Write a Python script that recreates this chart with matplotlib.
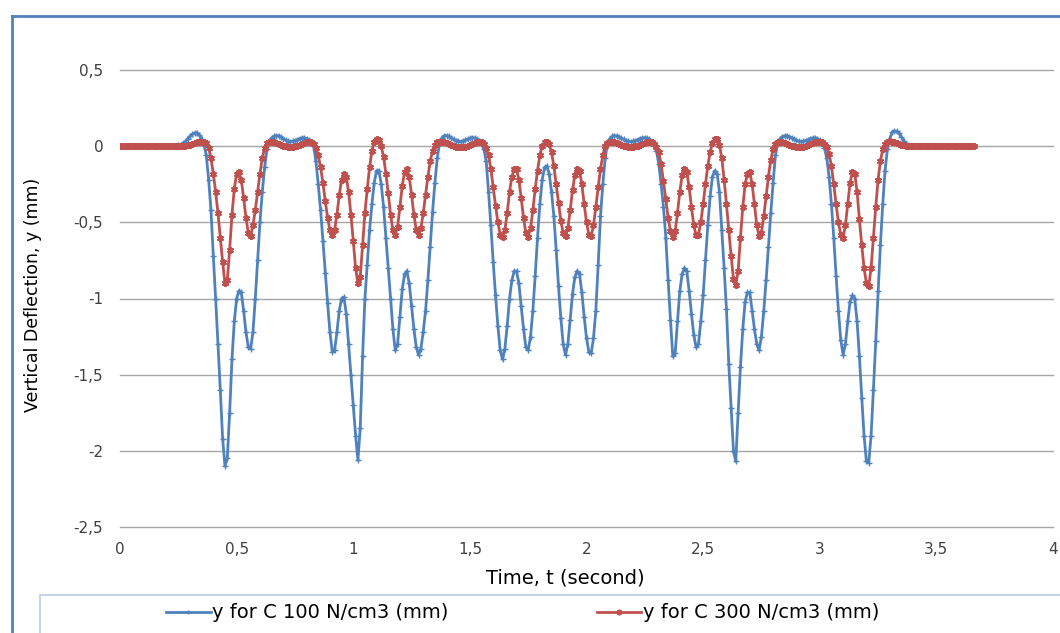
import matplotlib

matplotlib.use("Agg")
import matplotlib.pyplot as plt
import numpy as np
from matplotlib.lines import Line2D
from matplotlib.patches import Rectangle

# sampling step of the deflection records (s)
STEP = 0.01

# y for C 100 N/cm3 (mm), one row per 0.1 s starting at t = 0
y_c100 = [
    0, 0, 0, 0, 0, 0, 0, 0, 0, 0,
    0, 0, 0, 0, 0, 0, 0, 0, 0, 0,
    0, 0, 0, 0, 0, 0.005, 0.01, 0.02, 0.03, 0.05,
    0.065, 0.078, 0.087, 0.088, 0.075, 0.045, 0.01, -0.06, -0.22, -0.42,
    -0.72, -1.0, -1.3, -1.6, -1.92, -2.1, -2.05, -1.75, -1.4, -1.15,
    -1.0, -0.95, -0.96, -1.08, -1.22, -1.32, -1.33, -1.22, -1.0, -0.75,
    -0.5, -0.3, -0.14, -0.02, 0.03, 0.055, 0.065, 0.07, 0.068, 0.06,
    0.05, 0.04, 0.033, 0.03, 0.032, 0.037, 0.043, 0.05, 0.054, 0.055,
    0.05, 0.04, 0.02, 0.0, -0.1, -0.25, -0.42, -0.62, -0.83, -1.03,
    -1.22, -1.35, -1.34, -1.22, -1.08, -1.0, -0.99, -1.1, -1.3, -1.5,
    -1.7, -1.9, -2.06, -1.85, -1.38, -1.0, -0.78, -0.55, -0.38, -0.24,
    -0.16, -0.16, -0.25, -0.4, -0.6, -0.8, -1.0, -1.2, -1.34, -1.3,
    -1.12, -0.94, -0.84, -0.82, -0.9, -1.05, -1.2, -1.32, -1.37, -1.33,
    -1.22, -1.08, -0.88, -0.66, -0.43, -0.24, -0.08, 0.02, 0.055, 0.068,
    0.07, 0.065, 0.055, 0.045, 0.037, 0.032, 0.03, 0.033, 0.04, 0.047,
    0.053, 0.056, 0.055, 0.048, 0.035, 0.015, -0.02, -0.1, -0.3, -0.52,
    -0.76, -0.98, -1.18, -1.34, -1.40, -1.33, -1.18, -1.0, -0.88, -0.82,
    -0.82, -0.9, -1.05, -1.2, -1.32, -1.34, -1.25, -1.08, -0.85, -0.6,
    -0.38, -0.22, -0.14, -0.13, -0.18, -0.3, -0.46, -0.68, -0.92, -1.13,
    -1.3, -1.37, -1.3, -1.14, -0.97, -0.86, -0.82, -0.84, -0.96, -1.12,
    -1.26, -1.35, -1.36, -1.26, -1.08, -0.78, -0.46, -0.25, -0.08, 0.02,
    0.05, 0.065, 0.07, 0.067, 0.06, 0.052, 0.044, 0.037, 0.032, 0.03,
    0.032, 0.037, 0.043, 0.05, 0.054, 0.056, 0.053, 0.045, 0.03, 0.01,
    -0.03, -0.12, -0.25, -0.4, -0.6, -0.88, -1.14, -1.38, -1.36, -1.15,
    -0.95, -0.84, -0.8, -0.82, -0.95, -1.1, -1.24, -1.32, -1.3, -1.15,
    -0.98, -0.75, -0.52, -0.33, -0.2, -0.16, -0.18, -0.3, -0.55, -0.8,
    -1.07, -1.43, -1.72, -2.0, -2.07, -1.75, -1.45, -1.2, -1.02, -0.96,
    -0.96, -1.08, -1.2, -1.3, -1.34, -1.25, -1.08, -0.88, -0.66, -0.44,
    -0.24, -0.06, 0.02, 0.05, 0.063, 0.068, 0.068, 0.063, 0.055, 0.046,
    0.038, 0.032, 0.03, 0.032, 0.037, 0.043, 0.05, 0.054, 0.055, 0.05,
    0.038, 0.02, -0.01, -0.08, -0.2, -0.38, -0.6, -0.85, -1.08, -1.27,
    -1.37, -1.3, -1.15, -1.02, -0.98, -1.0, -1.15, -1.38, -1.65, -1.9,
    -2.07, -2.08, -1.9, -1.6, -1.28, -0.95, -0.65, -0.38, -0.16, -0.02,
    0.05, 0.09, 0.1, 0.098, 0.085, 0.06, 0.035, 0.015, 0.005, 0.0,
    0, 0, 0, 0, 0, 0, 0, 0, 0, 0,
    0, 0, 0, 0, 0, 0, 0, 0, 0, 0,
    0, 0, 0, 0, 0, 0, 0,
]

# y for C 300 N/cm3 (mm)
y_c300 = [
    0, 0, 0, 0, 0, 0, 0, 0, 0, 0,
    0, 0, 0, 0, 0, 0, 0, 0, 0, 0,
    0, 0, 0, 0, 0, 0, 0, 0, 0.003, 0.006,
    0.01, 0.015, 0.02, 0.025, 0.03, 0.03, 0.028, 0.02, -0.01, -0.08,
    -0.18, -0.3, -0.44, -0.6, -0.76, -0.9, -0.88, -0.68, -0.45, -0.28,
    -0.18, -0.17, -0.22, -0.34, -0.47, -0.57, -0.59, -0.52, -0.42, -0.3,
    -0.18, -0.08, -0.01, 0.02, 0.03, 0.03, 0.027, 0.022, 0.015, 0.008,
    0.002, -0.002, -0.005, -0.006, -0.005, -0.002, 0.004, 0.01, 0.017, 0.023,
    0.028, 0.03, 0.027, 0.015, -0.01, -0.06, -0.14, -0.24, -0.36, -0.47,
    -0.55, -0.58, -0.55, -0.45, -0.32, -0.22, -0.18, -0.2, -0.3, -0.45,
    -0.62, -0.8, -0.9, -0.86, -0.65, -0.44, -0.28, -0.14, -0.03, 0.03,
    0.045, 0.04, 0.0, -0.07, -0.18, -0.31, -0.45, -0.55, -0.58, -0.53,
    -0.4, -0.26, -0.17, -0.15, -0.2, -0.32, -0.45, -0.55, -0.58, -0.54,
    -0.44, -0.32, -0.2, -0.1, -0.03, 0.01, 0.025, 0.03, 0.03, 0.027,
    0.022, 0.015, 0.008, 0.002, -0.003, -0.006, -0.007, -0.006, -0.003, 0.003,
    0.01, 0.017, 0.024, 0.028, 0.03, 0.025, 0.012, -0.01, -0.06, -0.15,
    -0.27, -0.39, -0.5, -0.58, -0.595, -0.55, -0.44, -0.3, -0.2, -0.15,
    -0.15, -0.22, -0.34, -0.47, -0.57, -0.595, -0.54, -0.42, -0.28, -0.16,
    -0.06, 0.0, 0.025, 0.03, 0.015, -0.04, -0.13, -0.25, -0.37, -0.49,
    -0.57, -0.59, -0.54, -0.42, -0.29, -0.19, -0.15, -0.16, -0.25, -0.38,
    -0.5, -0.58, -0.59, -0.52, -0.4, -0.27, -0.15, -0.06, 0.0, 0.02,
    0.03, 0.03, 0.027, 0.022, 0.015, 0.008, 0.002, -0.002, -0.005, -0.006,
    -0.005, -0.002, 0.004, 0.01, 0.017, 0.023, 0.028, 0.03, 0.027, 0.015,
    -0.005, -0.04, -0.12, -0.23, -0.35, -0.47, -0.56, -0.595, -0.56, -0.44,
    -0.3, -0.19, -0.15, -0.17, -0.27, -0.4, -0.52, -0.585, -0.58, -0.5,
    -0.38, -0.25, -0.13, -0.04, 0.02, 0.048, 0.045, 0.01, -0.08, -0.22,
    -0.38, -0.55, -0.72, -0.87, -0.91, -0.82, -0.6, -0.4, -0.25, -0.18,
    -0.17, -0.25, -0.38, -0.52, -0.59, -0.57, -0.46, -0.33, -0.2, -0.09,
    -0.02, 0.015, 0.028, 0.03, 0.028, 0.022, 0.015, 0.008, 0.002, -0.002,
    -0.005, -0.006, -0.006, -0.004, 0.0, 0.006, 0.013, 0.02, 0.026, 0.03,
    0.03, 0.026, 0.015, -0.005, -0.05, -0.13, -0.25, -0.38, -0.5, -0.58,
    -0.6, -0.52, -0.38, -0.24, -0.17, -0.18, -0.3, -0.48, -0.65, -0.8,
    -0.9, -0.92, -0.8, -0.6, -0.4, -0.22, -0.1, -0.02, 0.015, 0.03,
    0.032, 0.03, 0.025, 0.02, 0.015, 0.01, 0.006, 0.003, 0.001, 0.0,
    0, 0, 0, 0, 0, 0, 0, 0, 0, 0,
    0, 0, 0, 0, 0, 0, 0, 0, 0, 0,
    0, 0, 0, 0, 0, 0, 0,
]

x_ticks = [0, 0.5, 1, 1.5, 2, 2.5, 3, 3.5, 4]
y_ticks = [0.5, 0, -0.5, -1, -1.5, -2, -2.5]

BLUE = "#4F81BD"
RED = "#C0504D"


def comma(v):
    s = f"{v:g}"
    return s.replace(".", ",")


fig = plt.figure(figsize=(10.6, 6.33), dpi=100)
ax = fig.add_axes([120 / 1060, 1 - 527 / 633, 933 / 1060, 457 / 633])

t100 = np.arange(len(y_c100)) * STEP
t300 = np.arange(len(y_c300)) * STEP

ax.plot(t100, y_c100, color=BLUE, lw=2, marker="+", ms=4, mew=1,
        label="y for C 100 N/cm3 (mm)", zorder=3)
ax.plot(t300, y_c300, color=RED, lw=2, marker=(6, 2, 0), ms=5, mew=1.4,
        label="y for C 300 N/cm3 (mm)", zorder=4)

ax.set_xlim(0, 4)
ax.set_ylim(-2.5, 0.5)
ax.set_xticks(x_ticks)
ax.set_yticks(y_ticks)
ax.set_xticklabels([comma(v) for v in x_ticks])
ax.set_yticklabels([comma(v) for v in y_ticks])
ax.tick_params(axis="both", length=0, labelsize=11, colors="#404040")
ax.tick_params(axis="y", pad=12)
ax.tick_params(axis="x", pad=11)
for s in ax.spines.values():
    s.set_visible(False)
ax.yaxis.grid(True, color="#A6A6A6", lw=1)
for gl in ax.get_ygridlines():
    gl.set_clip_on(False)
ax.set_axisbelow(True)

ax.set_xlabel("Time, t (second)", fontsize=14)
ax.xaxis.set_label_coords((565 - 120) / 933, (527 - 568) / 457)
ax.set_ylabel("Vertical Deflection, y (mm)", fontsize=12.5)
ax.yaxis.set_label_coords((42 - 120) / 933, (527 - 295) / 457)

# outer chart frame (left and top edges visible)
fig.add_artist(Line2D([12 / 1060, 12 / 1060], [0, 1 - 16 / 633], color=BLUE, lw=2))
fig.add_artist(Line2D([12 / 1060, 1], [1 - 16 / 633, 1 - 16 / 633], color=BLUE, lw=2))

# legend frame
fig.add_artist(Rectangle((40 / 1060, -0.05), 1.0, 0.05 + (633 - 595) / 633,
                         transform=fig.transFigure, fill=False,
                         edgecolor="#B8CCE4", lw=1.2))
fig.legend(loc="center left", bbox_to_anchor=(158 / 1060, 1 - 613 / 633),
           ncol=2, frameon=False, fontsize=14, handlelength=2.3,
           handletextpad=0.1, columnspacing=7.6, markerscale=0.8,
           borderaxespad=0)

fig.savefig("out.png", dpi=100)
